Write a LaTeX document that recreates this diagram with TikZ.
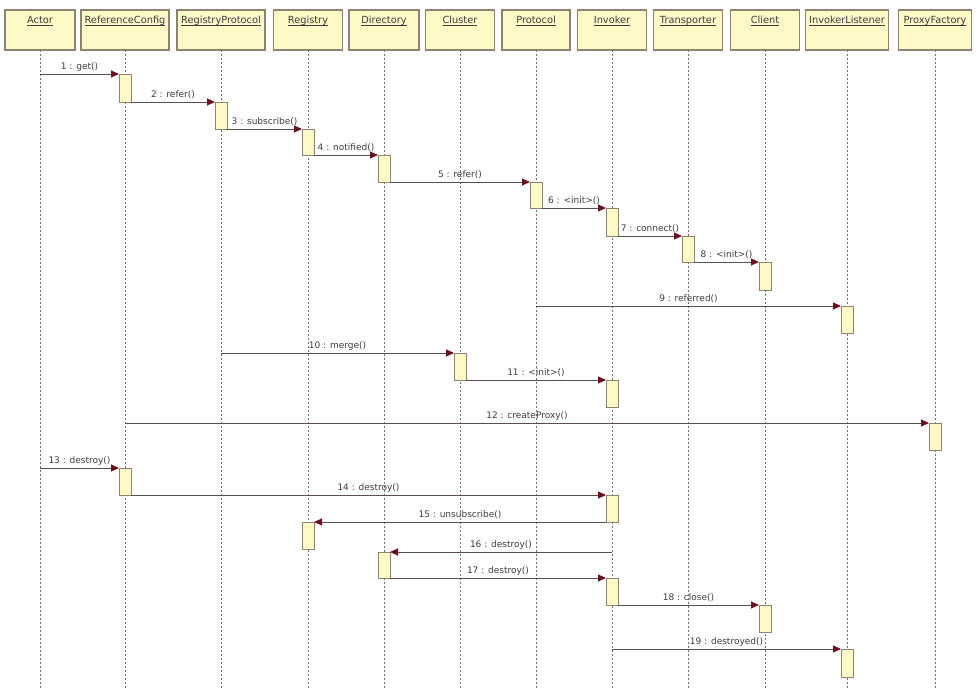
\documentclass[tikz,border=0pt]{standalone}
\usepackage{fontspec}
\setmainfont{DejaVu Sans}
\usetikzlibrary{arrows.meta}
\definecolor{boxfill}{HTML}{FFF9C8}
\definecolor{boxdraw}{HTML}{8E8270}
\definecolor{linecol}{HTML}{5A4E4E}
\definecolor{headcol}{HTML}{6A1020}
\definecolor{txtcol}{HTML}{3C3C3C}
\definecolor{lifecol}{HTML}{707070}
\newcommand\hdrul[1]{\underline{\raisebox{0pt}[\height][0pt]{#1}}}
\tikzset{
  hdr/.style={draw=boxdraw, fill=boxfill, line width=1.2pt, minimum height=40pt, inner sep=0pt, outer sep=0pt},
  hdrtxt/.style={anchor=north, text=txtcol, font=\fontsize{9.8}{11}\selectfont, inner sep=0pt, yshift=-6pt},
  life/.style={draw=lifecol, line width=0.8pt, dash pattern=on 2pt off 2pt},
  act/.style={draw=boxdraw, fill=boxfill, line width=0.9pt, minimum width=12pt, minimum height=27pt, inner sep=0pt, outer sep=0pt, anchor=north},
  msg/.style={draw=linecol, line width=0.9pt, -{Triangle[length=8pt,width=7pt,color=headcol]}},
  lbl/.style={midway, above, text=txtcol, font=\fontsize{9}{10}\selectfont, inner sep=2.5pt}
}
\begin{document}
\begin{tikzpicture}[x=1pt,y=-1pt]
\useasboundingbox (0,0) rectangle (980,692);
\coordinate (bottom) at (0,688);
% headers
\node[hdr, minimum width=70pt] (actor) at (40,30) {};
\node[hdr, minimum width=88pt] (rc) at (125,30) {};
\node[hdr, minimum width=88pt] (rp) at (221,30) {};
\node[hdr, minimum width=69pt] (reg) at (308,30) {};
\node[hdr, minimum width=70pt] (dir) at (384,30) {};
\node[hdr, minimum width=69pt] (cl) at (460,30) {};
\node[hdr, minimum width=68pt] (pr) at (536,30) {};
\node[hdr, minimum width=69pt] (inv) at (612,30) {};
\node[hdr, minimum width=69pt] (tr) at (688,30) {};
\node[hdr, minimum width=69pt] (cli) at (765,30) {};
\node[hdr, minimum width=83pt] (il) at (847,30) {};
\node[hdr, minimum width=73pt] (pf) at (935,30) {};
\node[hdrtxt] (actorT) at (actor.north) {\hdrul{Actor}};
\node[hdrtxt] (rcT) at (rc.north) {\hdrul{ReferenceConfig}};
\node[hdrtxt] (rpT) at (rp.north) {\hdrul{RegistryProtocol}};
\node[hdrtxt] (regT) at (reg.north) {\hdrul{Registry}};
\node[hdrtxt] (dirT) at (dir.north) {\hdrul{Directory}};
\node[hdrtxt] (clT) at (cl.north) {\hdrul{Cluster}};
\node[hdrtxt] (prT) at (pr.north) {\hdrul{Protocol}};
\node[hdrtxt] (invT) at (inv.north) {\hdrul{Invoker}};
\node[hdrtxt] (trT) at (tr.north) {\hdrul{Transporter}};
\node[hdrtxt] (cliT) at (cli.north) {\hdrul{Client}};
\node[hdrtxt] (ilT) at (il.north) {\hdrul{InvokerListener}};
\node[hdrtxt] (pfT) at (pf.north) {\hdrul{ProxyFactory}};
% lifelines
\foreach \n in {actor,rc,rp,reg,dir,cl,pr,inv,tr,cli,il,pf}
  \draw[life] (\n.south) -- (\n.south |- bottom);
% activation boxes
\node[act, minimum height=28pt] (b1) at (125,74) {};
\node[act, minimum height=27pt] (b2) at (221,102) {};
\node[act, minimum height=26pt] (b3) at (308,129) {};
\node[act, minimum height=27pt] (b4) at (384,155) {};
\node[act, minimum height=26pt] (b5) at (536,182) {};
\node[act, minimum height=28pt] (b6) at (612,208) {};
\node[act, minimum height=26pt] (b7) at (688,236) {};
\node[act, minimum height=28pt] (b8) at (765,262) {};
\node[act] (b9) at (847,306) {};
\node[act] (b10) at (460,353) {};
\node[act] (b11) at (612,380) {};
\node[act] (b12) at (935,423) {};
\node[act] (b13) at (125,468) {};
\node[act] (b14) at (612,495) {};
\node[act] (b15) at (308,522) {};
\node[act, minimum height=26pt] (b16) at (384,552) {};
\node[act, minimum height=27pt] (b17) at (612,578) {};
\node[act] (b18) at (765,605) {};
\node[act, minimum height=28pt] (b19) at (847,649) {};
% free ends on lifelines
\coordinate (s1) at (40,74);
\coordinate (s9) at (536,306);
\coordinate (s10) at (221,353);
\coordinate (s12) at (125,423);
\coordinate (s13) at (40,468);
\coordinate (s16) at (612,552);
\coordinate (s19) at (612,649);
% messages
\draw[msg] (s1) -- node[lbl]{1 : get()} (b1.north west);
\draw[msg] (b1.south east) -- node[lbl]{2 : refer()} (b2.north west);
\draw[msg] (b2.south east) -- node[lbl]{3 : subscribe()} (b3.north west);
\draw[msg] (b3.south east) -- node[lbl]{4 : notified()} (b4.north west);
\draw[msg] (b4.south east) -- node[lbl]{5 : refer()} (b5.north west);
\draw[msg] (b5.south east) -- node[lbl]{6 : <init>()} (b6.north west);
\draw[msg] (b6.south east) -- node[lbl]{7 : connect()} (b7.north west);
\draw[msg] (b7.south east) -- node[lbl]{8 : <init>()} (b8.north west);
\draw[msg] (s9) -- node[lbl]{9 : referred()} (b9.north west);
\draw[msg] (s10) -- node[lbl]{10 : merge()} (b10.north west);
\draw[msg] (b10.south east) -- node[lbl]{11 : <init>()} (b11.north west);
\draw[msg] (s12) -- node[lbl]{12 : createProxy()} (b12.north west);
\draw[msg] (s13) -- node[lbl]{13 : destroy()} (b13.north west);
\draw[msg] (b13.south east) -- node[lbl]{14 : destroy()} (b14.north west);
\draw[msg] (b14.south west) -- node[lbl]{15 : unsubscribe()} (b15.north east);
\draw[msg] (s16) -- node[lbl]{16 : destroy()} (b16.north east);
\draw[msg] (b16.south east) -- node[lbl]{17 : destroy()} (b17.north west);
\draw[msg] (b17.south east) -- node[lbl]{18 : close()} (b18.north west);
\draw[msg] (s19) -- node[lbl]{19 : destroyed()} (b19.north west);
\end{tikzpicture}
\end{document}
